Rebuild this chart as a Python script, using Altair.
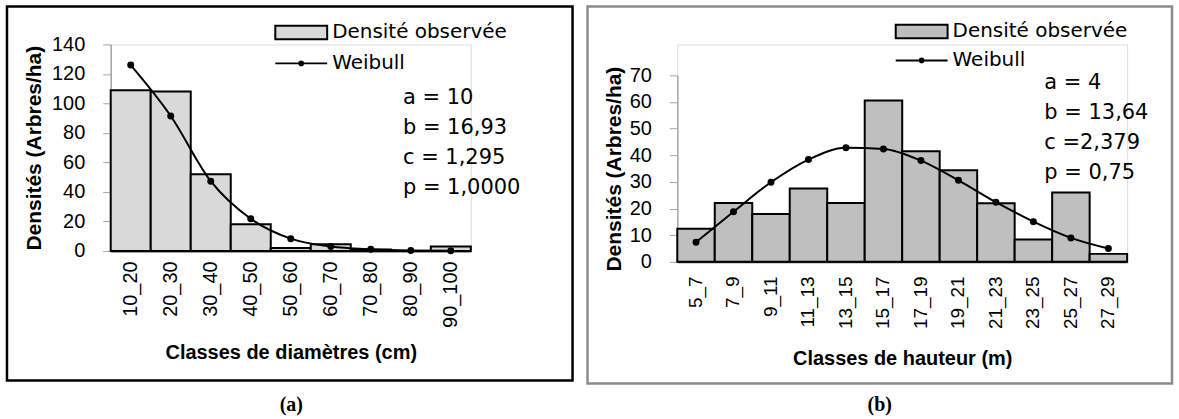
import altair as alt
import pandas as pd

# ---------------- data ----------------
diam_classes = ["10_20", "20_30", "30_40", "40_50", "50_60", "60_70", "70_80", "80_90", "90_100"]
diam_observed = [109, 108, 52, 18, 2, 4.5, 1, 0, 3]
diam_weibull = [126, 91.5, 47.3, 21.8, 8.3, 3, 1.1, 0.3, 0.1]
diam_params = ["a = 10", "b = 16,93", "c = 1,295", "p = 1,0000"]
diam_yticks = [0, 20, 40, 60, 80, 100, 120, 140]

haut_classes = ["5_7", "7_9", "9_11", "11_13", "13_15", "15_17", "17_19", "19_21",
                "21_23", "23_25", "25_27", "27_29"]
haut_observed = [12.4, 22.1, 18, 27.5, 22.1, 60.6, 41.5, 34.4, 22, 8.4, 26, 3]
haut_weibull = [7.4, 18.8, 29.9, 38.4, 42.8, 42.4, 38, 30.6, 22.4, 15.1, 9, 5]
haut_params = ["a = 4", "b = 13,64", "c =2,379", "p = 0,75"]
haut_yticks = [0, 10, 20, 30, 40, 50, 60, 70]

series_bar = "Densité observée"
series_line = "Weibull"
ytitle = "Densités (Arbres/ha)"

FONT = "DejaVu Sans"
BOX_PATH = "M-1,-0.26H1V0.26H-1Z"
LINE_PATH = "M-1,0H1M0.07,0A0.07,0.07,0,1,1,-0.07,0A0.07,0.07,0,1,1,0.07,0"


def panel(classes, observed, weibull, params, yticks, ymax, bar_color, xtitle,
          W, H, yrange, frame, frame_color, sublabel, sub_x, sub_y,
          leg_x, leg_y1, leg_y2, par_x, par_y, xlab_size, xlab_pad, xtitle_pad,
          ytitle_pad):
    df = pd.DataFrame({
        "classe": classes,
        "obs": observed,
        "wei": weibull,
        "s1": [series_bar] * len(classes),
        "s2": [series_line] * len(classes),
    })
    xaxis = alt.Axis(title=xtitle, labelAngle=270, ticks=False, tickSize=0,
                     domainColor="#404040", domainWidth=2, labelPadding=xlab_pad,
                     labelFontSize=xlab_size, titleFontSize=20, titleFontWeight="bold",
                     titlePadding=xtitle_pad)
    xenc = alt.X("classe:N", sort=classes,
                 scale=alt.Scale(paddingInner=0, paddingOuter=0), axis=xaxis)
    yaxis = alt.Axis(title=ytitle, values=yticks, grid=False, domainColor="#a6a6a6",
                     tickColor="#a6a6a6", tickSize=8, domainWidth=1.5, labelPadding=18,
                     labelFontSize=20, titleFontSize=21, titleFontWeight="bold",
                     titlePadding=ytitle_pad)
    yscale = alt.Scale(domain=[0, ymax], range=yrange, nice=False)

    bars = alt.Chart(df).mark_bar(stroke="black", strokeWidth=2).encode(
        x=xenc,
        y=alt.Y("obs:Q", scale=yscale, axis=yaxis),
        fill=alt.Fill("s1:N", scale=alt.Scale(domain=[series_bar], range=[bar_color]),
                      legend=alt.Legend(title=None, orient="none", legendX=leg_x,
                                        legendY=leg_y1, symbolType=BOX_PATH,
                                        symbolSize=2704, symbolStrokeColor="black",
                                        symbolStrokeWidth=2, labelFontSize=20,
                                        labelFont=FONT, labelColor="black",
                                        labelOffset=4, labelLimit=400)),
    )
    line = alt.Chart(df).mark_line(
        strokeWidth=2, interpolate="monotone",
        point=alt.OverlayMarkDef(filled=True, color="black", size=25),
    ).encode(
        x=xenc,
        y=alt.Y("wei:Q", scale=yscale, axis=yaxis),
        stroke=alt.Stroke("s2:N", scale=alt.Scale(domain=[series_line], range=["black"]),
                          legend=alt.Legend(title=None, orient="none", legendX=leg_x,
                                            legendY=leg_y2, symbolType=LINE_PATH,
                                            symbolSize=2704, symbolStrokeColor="black",
                                            symbolStrokeWidth=2, labelFontSize=20,
                                            labelFont=FONT, labelColor="black",
                                            labelOffset=4, labelLimit=400)),
    )
    ptext = alt.Chart(alt.Data(values=[{}])).mark_text(
        text=params, align="left", baseline="middle", lineHeight=30, fontSize=21,
        font=FONT, color="black",
    ).encode(x=alt.value(par_x), y=alt.value(par_y))

    fr = alt.Chart(alt.Data(values=[{}])).mark_rect(
        fillOpacity=0, stroke=frame_color, strokeWidth=2.5,
    ).encode(x=alt.value(frame[0]), x2=alt.value(frame[1]),
             y=alt.value(frame[2]), y2=alt.value(frame[3]))

    sub = alt.Chart(alt.Data(values=[{}])).mark_text(
        text=sublabel, font="Liberation Serif", fontWeight="bold", fontSize=20,
        color="black", baseline="middle",
    ).encode(x=alt.value(sub_x), y=alt.value(sub_y))

    return alt.layer(bars, line, ptext, fr, sub).resolve_scale(
        fill="independent", stroke="independent").properties(width=W, height=H)


# left plot area: x 109..470, y 43..250 ; right: x 677..1128, y 43(74)..261
left = panel(diam_classes, diam_observed, diam_weibull, diam_params, diam_yticks, 140,
             "#d9d9d9", "Classes de diamètres (cm)", 361, 207, [207, 0],
             [-104, 463, -38, 337], "black", "(a)", 181, 362,
             164, -39, -8, 293, 54, 20, 10, 15, 7)
right = panel(haut_classes, haut_observed, haut_weibull, haut_params, haut_yticks, 70,
              "#bfbfbf", "Classes de hauteur (m)", 451, 218, [218, 31],
              [-90, 496, -38, 340], "#8c8c8c", "(b)", 203, 362,
              218, -40, -11, 368, 39, 19, 14, 20, 5)

chart = alt.hconcat(left, right, spacing=207, bounds="flush").resolve_scale(
    fill="independent", stroke="independent", x="independent", y="independent"
).resolve_legend(fill="independent", stroke="independent").properties(
    padding={"left": 5, "top": 3, "right": 5, "bottom": 5}
).configure_view(
    strokeWidth=0
).configure_axis(
    labelFont=FONT, titleFont=FONT, labelColor="black", titleColor="black"
).configure(background="white")

chart.save("out.html", embed_options={"renderer": "svg", "actions": False})
